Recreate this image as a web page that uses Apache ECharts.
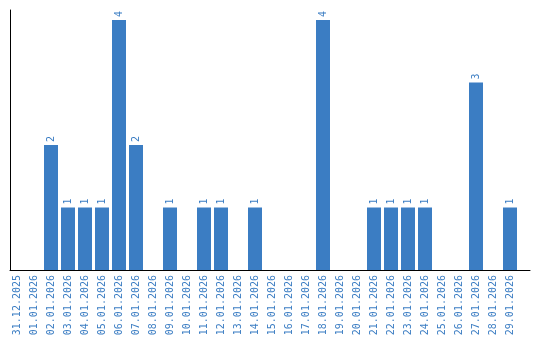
<!DOCTYPE html>
<html><head><meta charset="utf-8">
<script src="https://cdn.jsdelivr.net/npm/echarts@6/dist/echarts.min.js"></script>
<style>html,body{margin:0;padding:0;background:#fff}#c{width:540px;height:340px}</style>
</head><body><div id="c"></div>
<script>
var categories = ["31.12.2025","01.01.2026","02.01.2026","03.01.2026","04.01.2026","05.01.2026","06.01.2026","07.01.2026","08.01.2026","09.01.2026","10.01.2026","11.01.2026","12.01.2026","13.01.2026","14.01.2026","15.01.2026","16.01.2026","17.01.2026","18.01.2026","19.01.2026","20.01.2026","21.01.2026","22.01.2026","23.01.2026","24.01.2026","25.01.2026","26.01.2026","27.01.2026","28.01.2026","29.01.2026"];
var counts = [0,0,2,1,1,1,4,2,0,1,0,1,1,0,1,0,0,0,4,0,0,1,1,1,1,0,0,3,0,1];
var yMax = 4.16;

var blue = '#3b7dc3';
var chart = echarts.init(document.getElementById('c'), null, {renderer:'canvas'});
chart.setOption({
  animation:false,
  grid:[
    {left:10, top:10, width:520, height:260},
    {left:8.5, top:10, width:510, height:260}
  ],
  xAxis:[
    {gridIndex:0, type:'category', data:categories, axisLine:{show:true,lineStyle:{color:'#000',width:1}}, axisTick:{show:false}, axisLabel:{show:false}, splitLine:{show:false}},
    {gridIndex:1, type:'category', data:categories, axisLine:{show:false}, axisTick:{show:false},
     axisLabel:{show:true, interval:0, rotate:90, color:blue, fontFamily:'DejaVu Sans Mono', fontSize:10, margin:5}}
  ],
  yAxis:[
    {gridIndex:0, type:'value', min:0, max:yMax, axisLine:{show:true,lineStyle:{color:'#000',width:1}}, axisTick:{show:false}, axisLabel:{show:false}, splitLine:{show:false}},
    {gridIndex:1, type:'value', min:0, max:yMax, axisLine:{show:false}, axisTick:{show:false}, axisLabel:{show:false}, splitLine:{show:false}}
  ],
  series:[{
    type:'bar', xAxisIndex:1, yAxisIndex:1, data:counts, barWidth:14,
    itemStyle:{color:blue},
    label:{show:true, position:'top', rotate:90, align:'left', verticalAlign:'middle', distance:3,
      color:blue, fontFamily:'DejaVu Sans Mono', fontSize:10,
      formatter:function(p){return p.value ? String(p.value) : '';}}
  }]
});
</script></body></html>
